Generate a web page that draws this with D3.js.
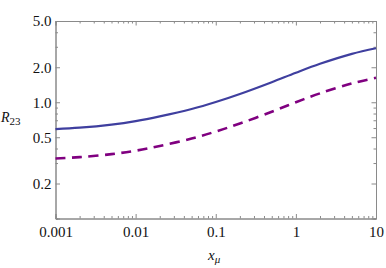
<!DOCTYPE html>
<html>
<head>
<meta charset="utf-8">
<script src="https://cdn.jsdelivr.net/npm/d3@7"></script>
<style>
  body { margin: 0; background: #fff; }
  svg text { font-family: "Liberation Serif", "DejaVu Serif", serif; }
</style>
</head>
<body>
<div id="chart"></div>
<script>
// data
var xVals = [0.001, 0.002, 0.005, 0.01, 0.02, 0.05, 0.1, 0.2, 0.5, 1, 2, 5, 10];
var solidVals = [0.588, 0.604, 0.642, 0.688, 0.755, 0.874, 1.004, 1.178, 1.488, 1.794, 2.141, 2.608, 2.913];
var dashedVals = [0.328, 0.337, 0.358, 0.383, 0.421, 0.487, 0.560, 0.656, 0.829, 1.000, 1.193, 1.453, 1.623];
var xTicks = [0.001, 0.01, 0.1, 1, 10];
var xTickLabels = ["0.001", "0.01", "0.1", "1", "10"];
var yTicks = [0.2, 0.5, 1, 2, 5];
var yTickLabels = ["0.2", "0.5", "1.0", "2.0", "5.0"];

var width = 386, height = 268;
var margin = {left: 55.5, right: 10, top: 21, bottom: 49.5};

var svg = d3.select("#chart").append("svg")
    .attr("width", width)
    .attr("height", height);

var x = d3.scaleLog().domain([0.001, 10]).range([margin.left, width - margin.right]);
var y = d3.scaleLog().domain([0.1, 5]).range([height - margin.bottom, margin.top]);

// minor ticks: every integer multiple inside each decade
var xMinor = [];
[0.001, 0.01, 0.1, 1].forEach(function(d) {
    for (var k = 2; k < 10; k++) xMinor.push(d * k);
});
var yMinor = [];
[0.1, 1].forEach(function(d) {
    for (var k = 1; k < 10; k++) {
        var v = +(d * k).toFixed(3);
        if (v <= 5 && yTicks.indexOf(v) < 0) yMinor.push(v);
    }
});

var axisColor = "#8a8a8a";

function styleAxis(g) {
    g.select(".domain").attr("stroke", axisColor).attr("stroke-width", 1);
    g.selectAll(".tick line").attr("stroke", axisColor);
    g.selectAll(".tick text").attr("fill", "#111").style("font-size", "15px");
}

// bottom
svg.append("g")
    .attr("transform", "translate(0," + (height - margin.bottom) + ")")
    .call(d3.axisBottom(x).tickValues(xMinor).tickSize(-2.5).tickFormat(""))
    .call(styleAxis);
svg.append("g")
    .attr("transform", "translate(0," + (height - margin.bottom) + ")")
    .call(d3.axisBottom(x).tickValues(xTicks).tickSize(-4.5).tickPadding(7.5)
        .tickFormat(function(d, i) { return xTickLabels[i]; }))
    .call(styleAxis);

// top
svg.append("g")
    .attr("transform", "translate(0," + margin.top + ")")
    .call(d3.axisTop(x).tickValues(xMinor).tickSize(-2.5).tickFormat(""))
    .call(styleAxis);
svg.append("g")
    .attr("transform", "translate(0," + margin.top + ")")
    .call(d3.axisTop(x).tickValues(xTicks).tickSize(-4.5).tickFormat(""))
    .call(styleAxis);

// left
svg.append("g")
    .attr("transform", "translate(" + margin.left + ",0)")
    .call(d3.axisLeft(y).tickValues(yMinor).tickSize(-2.5).tickFormat(""))
    .call(styleAxis);
svg.append("g")
    .attr("transform", "translate(" + margin.left + ",0)")
    .call(d3.axisLeft(y).tickValues(yTicks).tickSize(-4.5).tickPadding(4)
        .tickFormat(function(d, i) { return yTickLabels[i]; }))
    .call(styleAxis);

// right
svg.append("g")
    .attr("transform", "translate(" + (width - margin.right) + ",0)")
    .call(d3.axisRight(y).tickValues(yMinor).tickSize(-2.5).tickFormat(""))
    .call(styleAxis);
svg.append("g")
    .attr("transform", "translate(" + (width - margin.right) + ",0)")
    .call(d3.axisRight(y).tickValues(yTicks).tickSize(-4.5).tickFormat(""))
    .call(styleAxis);

// curves
var line = d3.line()
    .x(function(d) { return x(d[0]); })
    .y(function(d) { return y(d[1]); })
    .curve(d3.curveCatmullRom.alpha(0.5));

svg.append("path")
    .datum(xVals.map(function(v, i) { return [v, dashedVals[i]]; }))
    .attr("d", line)
    .attr("fill", "none")
    .attr("stroke", "#800080")
    .attr("stroke-width", 2.6)
    .attr("stroke-dasharray", "10,6.5");

svg.append("path")
    .datum(xVals.map(function(v, i) { return [v, solidVals[i]]; }))
    .attr("d", line)
    .attr("fill", "none")
    .attr("stroke", "#3f3f9f")
    .attr("stroke-width", 2.2);

// axis labels
var xl = svg.append("text")
    .attr("x", 208)
    .attr("y", 260)
    .style("font-size", "15px")
    .attr("fill", "#111");
xl.append("tspan").style("font-style", "italic").text("x");
xl.append("tspan").attr("dy", 3).style("font-size", "11px").style("font-style", "italic").text("μ");

var yl = svg.append("text")
    .attr("x", 1)
    .attr("y", 122)
    .style("font-size", "14px")
    .attr("fill", "#111");
yl.append("tspan").style("font-style", "italic").text("R");
yl.append("tspan").attr("dy", 3).style("font-size", "11px").text("23");
</script>
</body>
</html>
